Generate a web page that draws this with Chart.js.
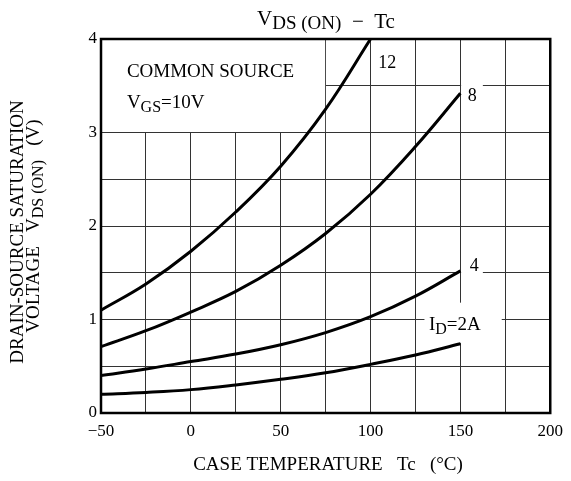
<!DOCTYPE html>
<html>
<head>
<meta charset="utf-8">
<script src="https://cdn.jsdelivr.net/npm/chart.js@4.4.0/dist/chart.umd.min.js"></script>
<style>
  body { margin: 0; background: #fff; }
  canvas { display: block; }
</style>
</head>
<body>
<canvas id="chart" width="571" height="481"></canvas>
<script>
// case temperature (°C) and VDS(ON)
const temps = [-50, -25, 0, 25, 50, 75, 100, 125, 150];
const temps12 = [-50, -25, 0, 25, 50, 75, 100];
const vds2A = [0.20, 0.22, 0.25, 0.30, 0.36, 0.43, 0.52, 0.62, 0.74];
const vds4A = [0.40, 0.47, 0.55, 0.63, 0.73, 0.86, 1.03, 1.25, 1.52];
const vds8A = [0.71, 0.88, 1.08, 1.30, 1.58, 1.92, 2.34, 2.85, 3.42];
const vds12A = [1.10, 1.38, 1.73, 2.15, 2.64, 3.25, 4.00];

const xTicks = [-50, 0, 50, 100, 150, 200];
const yTicks = [0, 1, 2, 3, 4];

const SERIF = "'Liberation Serif', 'Times New Roman', serif";

const toPoints = (xs, ys) => ys.map((y, i) => ({ x: xs[i], y: y }));

const curve = (label, xs, ys) => ({
  label: label,
  data: toPoints(xs, ys),
  borderColor: '#000',
  borderWidth: 3,
  pointRadius: 0,
  tension: 0.4,
  fill: false,
});

// draws text pieces one after another, each with its own size and baseline shift
function drawRich(ctx, x, y, parts, align) {
  let total = 0;
  parts.forEach((p) => {
    ctx.font = p.size + 'px ' + SERIF;
    p.w = ctx.measureText(p.t).width;
    total += p.w;
  });
  let cx = align === 'center' ? x - total / 2 : x;
  ctx.textAlign = 'left';
  ctx.textBaseline = 'alphabetic';
  parts.forEach((p) => {
    ctx.font = p.size + 'px ' + SERIF;
    ctx.fillText(p.t, cx, y + (p.dy || 0));
    cx += p.w;
  });
}

const sheetPlugin = {
  id: 'sheet',
  beforeDatasetsDraw(chart) {
    const { ctx, chartArea: a, scales: { x, y } } = chart;
    ctx.save();
    ctx.fillStyle = '#fff';
    // blank areas behind the notes
    const blank = (x0, x1, y0, y1) => {
      const px0 = x.getPixelForValue(x0), px1 = x.getPixelForValue(x1);
      const py0 = y.getPixelForValue(y0), py1 = y.getPixelForValue(y1);
      ctx.fillRect(px0, py1, px1 - px0, py0 - py1);
    };
    ctx.fillRect(a.left, a.top, x.getPixelForValue(75) - a.left - 0.5, y.getPixelForValue(3) - a.top - 0.5);
    blank(150.4, 162.5, 3.35, 3.65);
    blank(150.4, 162.5, 1.38, 1.62);
    blank(130, 173, 0.75, 1.18);
    ctx.restore();
  },
  afterDatasetsDraw(chart) {
    const { ctx, chartArea: a, scales: { x, y } } = chart;
    ctx.save();
    ctx.strokeStyle = '#000';
    ctx.lineWidth = 2.5;
    ctx.strokeRect(a.left, a.top, a.right - a.left, a.bottom - a.top);

    ctx.fillStyle = '#000';
    const px = (v) => x.getPixelForValue(v);
    const py = (v) => y.getPixelForValue(v);
    drawRich(ctx, px(-35.6), py(3.594), [{ t: 'COMMON SOURCE', size: 19 }]);
    drawRich(ctx, px(-35.6), py(3.262), [
      { t: 'V', size: 19 },
      { t: 'GS', size: 16, dy: 4 },
      { t: '=10V', size: 19 },
    ]);
    drawRich(ctx, px(104.3), py(3.69), [{ t: '12', size: 18 }]);
    drawRich(ctx, px(154.1), py(3.337), [{ t: '8', size: 18 }]);
    drawRich(ctx, px(155.2), py(1.519), [{ t: '4', size: 18 }]);
    drawRich(ctx, px(132.5), py(0.885), [
      { t: 'I', size: 19 },
      { t: 'D', size: 16, dy: 4 },
      { t: '=2A', size: 19 },
    ]);

    // title
    drawRich(ctx, 326, 25, [
      { t: 'V', size: 21 },
      { t: 'DS (ON)', size: 19, dy: 4 },
      { t: '  \u2212  Tc', size: 21, dy: 3 },
    ], 'center');

    // x axis title
    drawRich(ctx, 328, 470, [{ t: 'CASE TEMPERATURE   Tc   (\u00b0C)', size: 19 }], 'center');

    // y axis title, two rotated lines
    ctx.save();
    ctx.translate(23, 232);
    ctx.rotate(-Math.PI / 2);
    drawRich(ctx, 0, 0, [{ t: 'DRAIN-SOURCE SATURATION', size: 19 }], 'center');
    ctx.restore();
    ctx.save();
    ctx.translate(39, 226);
    ctx.rotate(-Math.PI / 2);
    drawRich(ctx, 0, 0, [
      { t: 'VOLTAGE   V', size: 19 },
      { t: 'DS (ON)', size: 16, dy: 4 },
      { t: '   (V)', size: 19 },
    ], 'center');
    ctx.restore();
    ctx.restore();
  },
};

new Chart(document.getElementById('chart').getContext('2d'), {
  type: 'line',
  data: {
    datasets: [
      curve('2A', temps, vds2A),
      curve('4A', temps, vds4A),
      curve('8A', temps, vds8A),
      curve('12A', temps12, vds12A),
    ],
  },
  options: {
    responsive: false,
    animation: false,
    layout: { padding: { left: 0, right: 18, top: 39, bottom: 0 } },
    plugins: { legend: { display: false }, tooltip: { enabled: false } },
    scales: {
      x: {
        type: 'linear',
        min: -50,
        max: 200,
        afterFit: (s) => { s.height = 68; },
        border: { display: false },
        grid: { color: '#333', lineWidth: 1, drawTicks: false },
        ticks: {
          stepSize: 25,
          padding: 8,
          color: '#000',
          font: { family: SERIF, size: 17 },
          maxRotation: 0,
          autoSkip: false,
          callback: (v) => (xTicks.includes(v) ? (v < 0 ? '\u2212' + Math.abs(v) : String(v)) : ''),
        },
      },
      y: {
        min: 0,
        max: 4,
        afterFit: (s) => { s.width = 101; },
        border: { display: false },
        grid: { color: '#333', lineWidth: 1, drawTicks: false },
        ticks: {
          stepSize: 0.5,
          padding: 4,
          color: '#000',
          font: { family: SERIF, size: 17 },
          autoSkip: false,
          callback: (v) => (yTicks.includes(v) ? String(v) : ''),
        },
      },
    },
  },
  plugins: [sheetPlugin],
});
</script>
</body>
</html>
